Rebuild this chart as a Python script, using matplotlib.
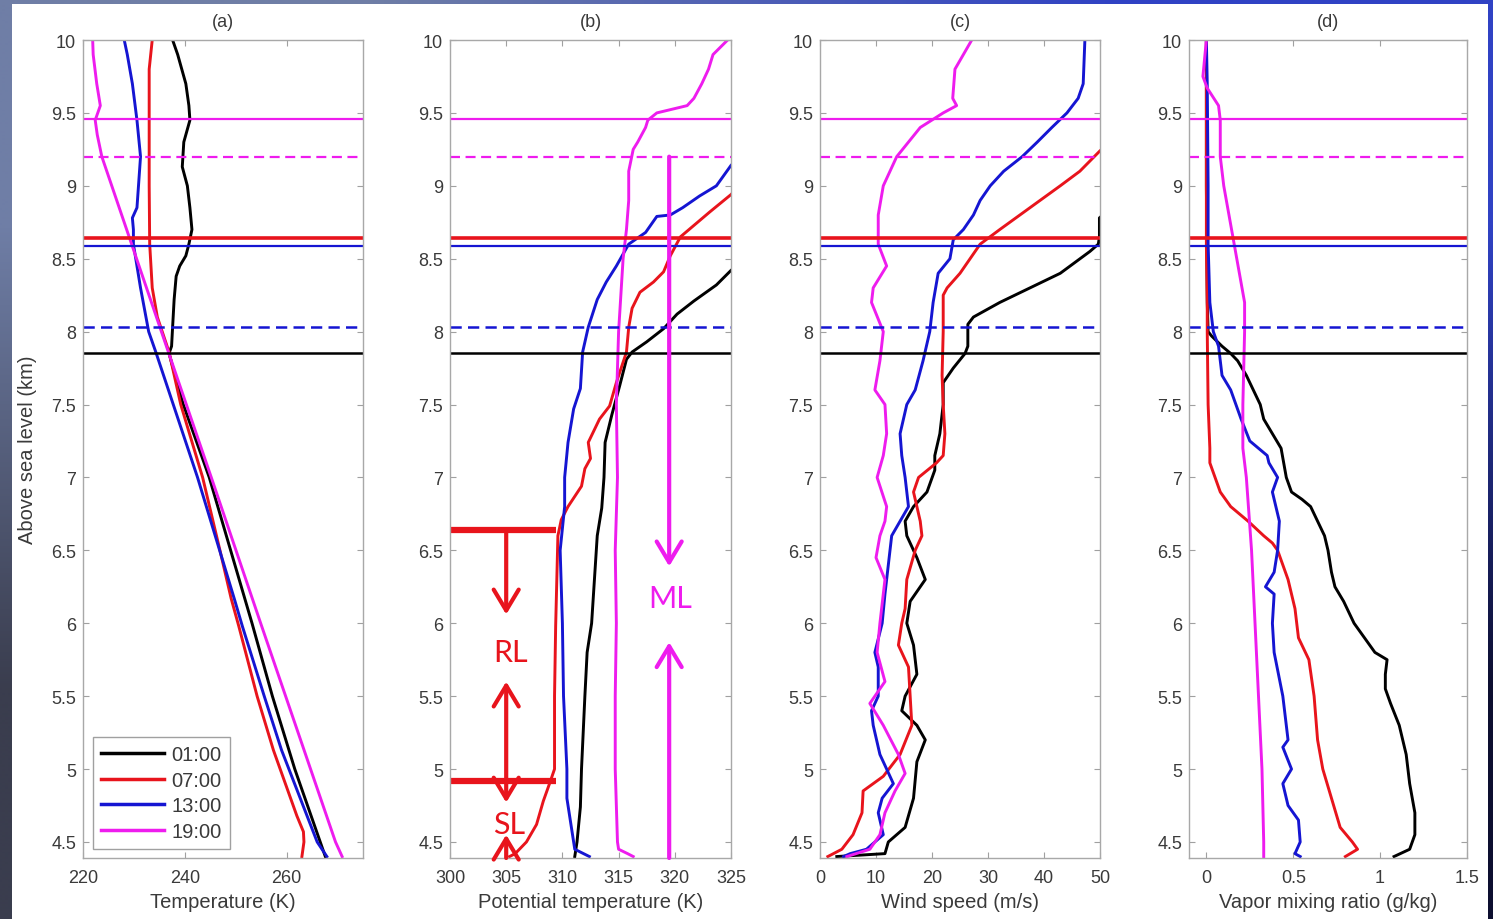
import numpy as np
import matplotlib
matplotlib.use('Agg')
import matplotlib.pyplot as plt
from matplotlib.patches import Rectangle

plt.rcParams['font.family'] = ['Liberation Sans', 'DejaVu Sans']

times = ['01:00', '07:00', '13:00', '19:00']
colors = ['black', '#e8141c', '#1515d2', '#ee1cee']

# (a) temperature (K) vs height (km)
ta_z01 = [10.0, 9.9, 9.7, 9.55, 9.45, 9.3, 9.13, 9.0, 8.85, 8.7, 8.6, 8.52, 8.45, 8.38, 8.22, 8.03, 7.9, 7.85, 7.5, 7.0, 6.5, 6.0, 5.5, 5.0, 4.5, 4.4]
ta_01 = [237.6, 238.6, 240.2, 240.8, 241.0, 239.8, 239.5, 240.5, 241.0, 241.4, 240.8, 240.2, 239.0, 238.3, 237.9, 237.6, 237.4, 236.9, 239.7, 244.8, 249.0, 253.2, 257.2, 261.6, 266.6, 267.6]
ta_z07 = [10.0, 9.8, 9.45, 9.0, 8.6, 8.3, 8.1, 7.86, 7.5, 7.0, 6.5, 6.17, 5.98, 5.5, 5.13, 4.68, 4.57, 4.5, 4.4]
ta_07 = [233.6, 233.0, 233.0, 233.0, 233.1, 233.6, 234.6, 236.9, 239.2, 243.5, 246.9, 249.1, 250.6, 254.2, 257.4, 262.0, 263.3, 263.4, 263.0]
ta_z13 = [10.0, 9.9, 9.7, 9.45, 9.2, 9.0, 8.85, 8.78, 8.7, 8.6, 8.3, 8.0, 7.86, 7.0, 6.17, 5.98, 5.5, 5.13, 4.5, 4.4]
ta_13 = [228.1, 228.7, 229.7, 230.6, 231.3, 230.9, 230.6, 229.7, 229.9, 229.9, 231.3, 232.9, 234.3, 242.5, 249.7, 251.3, 255.6, 259.0, 266.0, 267.9]
ta_z19 = [10.0, 9.9, 9.7, 9.55, 9.45, 9.35, 9.2, 8.0, 7.0, 6.0, 5.0, 4.5, 4.4]
ta_19 = [221.9, 222.0, 222.7, 223.4, 222.4, 222.8, 223.7, 235.4, 245.2, 254.9, 264.7, 269.6, 270.9]

# (b) potential temperature (K)
th_z01 = [8.55, 8.42, 8.32, 8.21, 8.12, 8.02, 7.93, 7.86, 7.81, 7.63, 7.43, 7.24, 7.0, 6.79, 6.6, 6.0, 5.8, 5.5, 5.0, 4.74, 4.5, 4.4]
th_01 = [327.0, 325.0, 323.7, 321.7, 320.2, 319.0, 317.5, 316.2, 315.7, 315.1, 314.4, 313.8, 313.7, 313.5, 313.1, 312.6, 312.2, 312.0, 311.7, 311.6, 311.3, 311.1]
th_z07 = [9.1, 8.94, 8.82, 8.65, 8.52, 8.41, 8.34, 8.27, 8.16, 8.03, 7.86, 7.65, 7.49, 7.4, 7.24, 7.13, 7.06, 6.94, 6.8, 6.71, 6.6, 5.98, 5.5, 5.0, 4.91, 4.78, 4.62, 4.5, 4.42, 4.4]
th_07 = [327.0, 325.0, 323.1, 320.5, 319.6, 319.0, 318.1, 316.9, 316.2, 315.9, 315.7, 314.8, 314.2, 313.3, 312.3, 312.5, 312.0, 311.7, 310.5, 309.9, 309.6, 309.4, 309.3, 309.3, 308.9, 308.3, 307.7, 306.8, 305.8, 305.3]
th_z13 = [9.3, 9.14, 9.0, 8.93, 8.85, 8.8, 8.79, 8.68, 8.6, 8.45, 8.34, 8.22, 8.03, 7.86, 7.61, 7.47, 7.24, 7.0, 6.8, 6.5, 6.0, 5.5, 5.0, 4.8, 4.6, 4.45, 4.4]
th_13 = [327.0, 325.0, 323.7, 322.2, 320.7, 319.6, 318.4, 317.4, 315.9, 314.8, 313.9, 313.1, 312.3, 311.8, 311.6, 311.0, 310.5, 310.2, 310.2, 309.8, 310.0, 310.1, 310.4, 310.4, 310.8, 311.1, 312.4]
th_z19 = [10.0, 9.9, 9.8, 9.7, 9.6, 9.55, 9.5, 9.45, 9.4, 9.3, 9.25, 9.1, 8.9, 8.7, 8.5, 8.0, 7.5, 7.0, 6.5, 6.0, 5.5, 5.0, 4.5, 4.45, 4.42, 4.4]
th_19 = [324.7, 323.4, 323.0, 322.4, 321.7, 321.1, 318.4, 317.6, 317.4, 316.7, 316.3, 315.9, 315.9, 315.7, 315.4, 315.0, 314.8, 314.9, 314.7, 314.8, 314.7, 314.7, 314.9, 315.0, 315.8, 316.3]

# (c) wind speed (m/s)
ws_z01 = [8.85, 8.78, 8.65, 8.6, 8.55, 8.4, 8.3, 8.2, 8.1, 8.05, 7.9, 7.85, 7.75, 7.65, 7.5, 7.3, 7.15, 7.05, 6.9, 6.8, 6.7, 6.6, 6.45, 6.3, 6.15, 6.0, 5.85, 5.65, 5.5, 5.4, 5.3, 5.2, 5.05, 4.8, 4.6, 4.5, 4.42, 4.4]
ws_01 = [52.0, 49.9, 49.9, 49.7, 48.2, 42.9, 37.5, 32.1, 27.4, 26.4, 26.4, 25.9, 23.8, 22.0, 22.0, 21.4, 20.5, 20.5, 19.1, 16.7, 15.2, 15.5, 17.3, 18.8, 16.1, 15.5, 16.7, 17.3, 15.2, 14.6, 17.3, 18.8, 17.3, 16.7, 15.2, 12.2, 11.6, 3.0]
ws_z07 = [9.45, 9.24, 9.1, 9.0, 8.9, 8.8, 8.7, 8.6, 8.5, 8.4, 8.3, 8.25, 8.0, 7.7, 7.5, 7.3, 7.15, 7.1, 7.0, 6.9, 6.7, 6.6, 6.5, 6.3, 6.1, 6.0, 5.85, 5.7, 5.5, 5.3, 5.1, 4.95, 4.85, 4.7, 4.55, 4.45, 4.4]
ws_07 = [56.0, 50.0, 46.4, 42.9, 39.3, 35.7, 32.1, 28.6, 26.8, 25.0, 22.7, 22.0, 22.0, 21.8, 22.0, 22.3, 22.0, 20.8, 17.6, 16.7, 17.9, 18.2, 17.0, 15.5, 15.2, 14.6, 14.0, 15.8, 16.1, 16.4, 14.3, 11.3, 7.7, 7.5, 5.9, 3.9, 1.4]
ws_z13 = [10.0, 9.7, 9.6, 9.5, 9.4, 9.3, 9.2, 9.1, 9.0, 8.9, 8.8, 8.7, 8.63, 8.5, 8.4, 8.2, 8.0, 7.8, 7.6, 7.5, 7.3, 7.15, 7.0, 6.8, 6.7, 6.6, 6.4, 6.2, 6.0, 5.8, 5.7, 5.5, 5.4, 5.3, 5.1, 4.9, 4.8, 4.7, 4.55, 4.45, 4.42, 4.4]
ws_13 = [47.3, 47.0, 46.1, 44.1, 41.4, 38.8, 36.1, 32.8, 30.4, 28.6, 27.4, 25.6, 23.8, 23.2, 21.1, 20.2, 19.6, 18.4, 17.0, 15.5, 14.3, 14.6, 15.2, 15.8, 14.3, 12.8, 12.2, 11.6, 11.1, 9.8, 10.4, 10.4, 9.2, 9.5, 10.7, 13.1, 11.1, 10.4, 11.3, 8.3, 5.4, 4.2]
ws_z19 = [10.0, 9.8, 9.6, 9.55, 9.5, 9.4, 9.2, 9.0, 8.8, 8.6, 8.45, 8.3, 8.2, 8.0, 7.8, 7.6, 7.5, 7.3, 7.15, 7.0, 6.8, 6.7, 6.6, 6.45, 6.3, 6.0, 5.8, 5.6, 5.45, 5.3, 5.1, 4.97, 4.85, 4.7, 4.55, 4.45, 4.4]
ws_19 = [27.1, 24.1, 23.7, 24.4, 22.0, 17.9, 13.7, 11.3, 10.4, 10.4, 11.9, 9.5, 9.2, 11.3, 10.7, 9.8, 11.6, 11.9, 11.3, 10.2, 11.9, 11.6, 10.7, 10.0, 11.6, 10.7, 10.2, 11.6, 8.9, 11.3, 14.0, 15.2, 13.4, 11.6, 10.7, 8.9, 4.8]

# (d) vapor mixing ratio (g/kg)
qv_z01 = [10.0, 9.0, 8.2, 8.0, 7.97, 7.9, 7.85, 7.8, 7.7, 7.6, 7.5, 7.4, 7.3, 7.2, 7.0, 6.9, 6.85, 6.8, 6.7, 6.6, 6.5, 6.35, 6.25, 6.15, 6.0, 5.9, 5.8, 5.75, 5.65, 5.55, 5.45, 5.3, 5.1, 4.9, 4.7, 4.55, 4.45, 4.4]
qv_01 = [0.0, 0.0, 0.005, 0.01, 0.03, 0.09, 0.14, 0.18, 0.23, 0.27, 0.31, 0.33, 0.38, 0.43, 0.46, 0.49, 0.55, 0.60, 0.64, 0.68, 0.70, 0.72, 0.74, 0.79, 0.85, 0.91, 0.97, 1.04, 1.03, 1.03, 1.06, 1.11, 1.15, 1.17, 1.20, 1.20, 1.17, 1.08]
qv_z07 = [10.0, 9.0, 8.6, 8.2, 8.0, 7.5, 7.2, 7.1, 6.9, 6.8, 6.7, 6.6, 6.55, 6.5, 6.3, 6.1, 5.9, 5.75, 5.5, 5.2, 5.0, 4.8, 4.6, 4.5, 4.45, 4.4]
qv_07 = [0.0, 0.0, 0.0, 0.005, 0.005, 0.01, 0.02, 0.02, 0.08, 0.14, 0.24, 0.33, 0.38, 0.41, 0.47, 0.51, 0.53, 0.59, 0.62, 0.64, 0.67, 0.72, 0.77, 0.84, 0.87, 0.80]
qv_z13 = [10.0, 9.7, 9.0, 8.6, 8.2, 8.0, 7.9, 7.7, 7.6, 7.4, 7.25, 7.15, 7.1, 7.0, 6.9, 6.7, 6.5, 6.35, 6.25, 6.2, 6.0, 5.8, 5.5, 5.2, 5.15, 5.0, 4.9, 4.75, 4.65, 4.5, 4.42, 4.4]
qv_13 = [0.0, 0.005, 0.01, 0.01, 0.02, 0.04, 0.07, 0.09, 0.14, 0.20, 0.25, 0.35, 0.36, 0.41, 0.38, 0.42, 0.41, 0.39, 0.34, 0.39, 0.38, 0.39, 0.44, 0.47, 0.44, 0.49, 0.44, 0.47, 0.53, 0.54, 0.51, 0.54]
qv_z19 = [10.0, 9.75, 9.67, 9.55, 9.45, 9.2, 9.0, 8.8, 8.6, 8.4, 8.2, 8.0, 7.5, 7.2, 7.0, 6.5, 6.0, 5.5, 5.0, 4.5, 4.4]
qv_19 = [0.0, -0.02, 0.005, 0.07, 0.08, 0.08, 0.10, 0.13, 0.16, 0.19, 0.22, 0.22, 0.21, 0.21, 0.23, 0.26, 0.28, 0.30, 0.32, 0.33, 0.33]

# boundary layer heights (km): 19:00 top, 19:00 dashed, 07:00, 13:00, 13:00 dashed, 01:00
bl_heights = [9.458, 9.20, 8.64, 8.59, 8.03, 7.853]

# layer markers in panel (b)
rl_top, rl_bottom = 6.64, 4.92
ml_top = 9.20

yticks = [4.5, 5, 5.5, 6, 6.5, 7, 7.5, 8, 8.5, 9, 9.5, 10]
ytick_labels = ['4.5', '5', '5.5', '6', '6.5', '7', '7.5', '8', '8.5', '9', '9.5', '10']

panels = [
    ('(a)', 'Temperature (K)', (220, 275), [220, 240, 260],
     [(ta_z01, ta_01), (ta_z07, ta_07), (ta_z13, ta_13), (ta_z19, ta_19)]),
    ('(b)', 'Potential temperature (K)', (300, 325), [300, 305, 310, 315, 320, 325],
     [(th_z01, th_01), (th_z07, th_07), (th_z13, th_13), (th_z19, th_19)]),
    ('(c)', 'Wind speed (m/s)', (0, 50), [0, 10, 20, 30, 40, 50],
     [(ws_z01, ws_01), (ws_z07, ws_07), (ws_z13, ws_13), (ws_z19, ws_19)]),
    ('(d)', 'Vapor mixing ratio (g/kg)', (-0.1, 1.5), [0, 0.5, 1, 1.5],
     [(qv_z01, qv_01), (qv_z07, qv_07), (qv_z13, qv_13), (qv_z19, qv_19)]),
]

W, H = 1493, 920
fig = plt.figure(figsize=(W / 100, H / 100), dpi=100)

# bluish slide background with a white page on top
bg = fig.add_axes([0, 0, 1, 1], zorder=-2)
corners = np.array([[[111, 126, 166], [48, 66, 196]],
                    [[58, 61, 78], [13, 15, 48]]]) / 255
bg.imshow(corners, interpolation='bilinear', aspect='auto', extent=[0, 1, 0, 1])
bg.axis('off')
fig.add_artist(Rectangle((12 / W, 0), 1476 / W, 915 / H, transform=fig.transFigure,
                         facecolor='white', edgecolor='none', zorder=-1))

lefts = [83, 450, 820, 1189]
widths = [280, 281, 280, 278]
txt = '#3a3a3a'
hline_styles = [(colors[3], '-', 1.6), (colors[3], (0, (4.5, 2.5)), 1.6),
                (colors[1], '-', 2.6), (colors[2], '-', 1.6),
                (colors[2], (0, (4.5, 2.5)), 1.8), (colors[0], '-', 1.8)]

axes = []
for i, (title, xlabel, xlim, xticks, series) in enumerate(panels):
    ax = fig.add_axes([lefts[i] / W, 61 / H, widths[i] / W, 818 / H])
    axes.append(ax)
    for (z, x), c, t in zip(series, colors, times):
        ax.plot(x, z, color=c, lw=2.1, label=t)
    for h, (c, ls, lw) in zip(bl_heights, hline_styles):
        ax.axhline(h, color=c, ls=ls, lw=lw)
    ax.set_xlim(xlim)
    ax.set_ylim(4.39, 10)
    ax.set_xticks(xticks)
    ax.set_xticklabels([f'{v:g}' for v in xticks])
    ax.set_yticks(yticks)
    ax.set_yticklabels(ytick_labels)
    ax.tick_params(direction='in', top=True, right=True, length=4, width=0.8,
                   color='#a0a0a0', labelsize=13, labelcolor=txt)
    ax.tick_params(axis='x', pad=8)
    ax.tick_params(axis='y', pad=5)
    for s in ax.spines.values():
        s.set_color('#a8a8a8')
        s.set_linewidth(1)
    ax.set_title(title, fontsize=13, color=txt, pad=10)
    ax.set_xlabel(xlabel, fontsize=14.5, color=txt)
    ax.xaxis.set_label_coords(0.5, -0.041)

ax = axes[0]
ax.set_ylabel('Above sea level (km)', fontsize=14.5, color=txt)
ax.yaxis.set_label_coords(-0.165, 0.5)
leg = ax.legend(loc='lower left', bbox_to_anchor=(0.036, 0.011), borderaxespad=0,
                fontsize=14.5, handlelength=3.1, handletextpad=0.4, labelspacing=0.33,
                borderpad=0.4, fancybox=False, framealpha=1, edgecolor='#a0a0a0')
for t in leg.get_texts():
    t.set_color(txt)
for l in leg.get_lines():
    l.set_linewidth(2.5)

# residual / surface / mixed layer markers in (b)
ax = axes[1]
red, mag = colors[1], colors[3]
ax.plot([300, 309.4], [rl_top, rl_top], color=red, lw=4.5, solid_capstyle='butt')
ax.plot([300, 309.4], [rl_bottom, rl_bottom], color=red, lw=4.5, solid_capstyle='butt')


def arrow(x, y0, y1, c):
    ax.annotate('', xy=(x, y1), xytext=(x, y0),
                arrowprops=dict(arrowstyle='->,head_length=0.75,head_width=0.45',
                                color=c, lw=3, shrinkA=0, shrinkB=0, mutation_scale=20))


arrow(305, rl_top, 6.06, red)
arrow(305, rl_bottom, 5.60, red)
arrow(305, rl_bottom, 4.77, red)
arrow(305, 4.39, 4.55, red)
arrow(319.5, ml_top, 6.39, mag)
arrow(319.5, 4.39, 5.87, mag)
lbl = dict(fontsize=22, ha='center', va='center', family=['Lato', 'DejaVu Sans'])
ax.text(305.4, 5.80, 'RL', color=red, **lbl)
ax.text(305.3, 4.62, 'SL', color=red, **lbl)
ax.text(319.6, 6.17, 'ML', color=mag, **lbl)

fig.savefig('out.png', dpi=100)
